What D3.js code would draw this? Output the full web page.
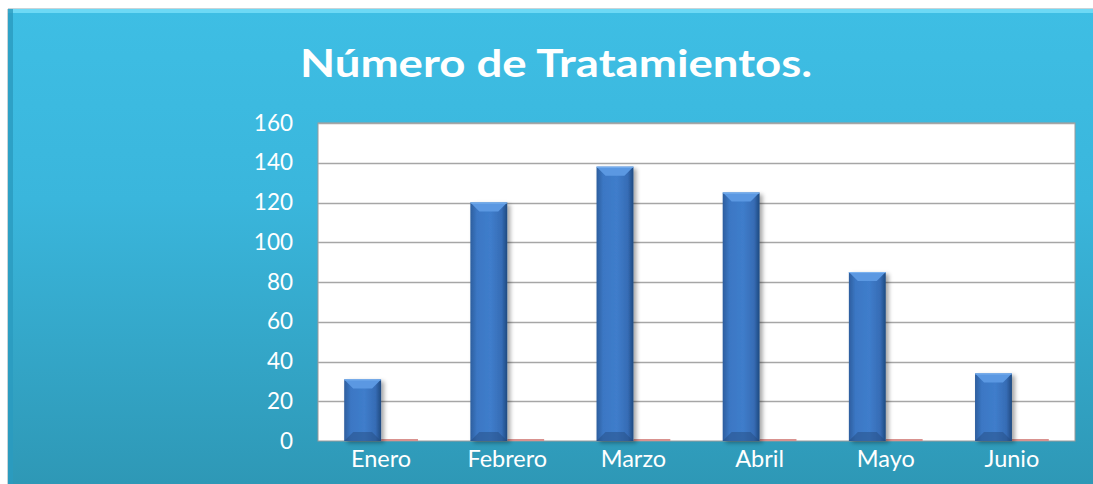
<!DOCTYPE html>
<html lang="es">
<head>
<meta charset="utf-8">
<title>Número de Tratamientos</title>
<script src="https://d3js.org/d3.v7.min.js"></script>
<style>
  body{margin:0;background:#fff;}
  svg{display:block;font-family:Lato,"Open Sans",sans-serif;}
</style>
</head>
<body>
<div id="chart"></div>
<script>
// data
var months = ["Enero","Febrero","Marzo","Abril","Mayo","Junio"]
var series = ["Tratamientos","Serie 2"]
var tratamientos = [31,120,138,125,85,34]
var serie2 = [1,1,1,1,1,1]
var yTicks = [0,20,40,60,80,100,120,140,160]

var W = 1093, H = 484
var plot = {left:318, right:1075, top:123, bottom:441}

var svg = d3.select("#chart").append("svg").attr("width",W).attr("height",H)
var defs = svg.append("defs")

// background panel gradient
var bg = defs.append("linearGradient").attr("id","bg").attr("x1",0).attr("y1",0).attr("x2",0).attr("y2",1)
bg.append("stop").attr("offset","0%").attr("stop-color","#3ebee4")
bg.append("stop").attr("offset","40%").attr("stop-color","#3ab6dc")
bg.append("stop").attr("offset","100%").attr("stop-color","#2e98b6")

var barG = defs.append("linearGradient").attr("id","barG").attr("x1",0).attr("y1",0).attr("x2",1).attr("y2",0)
barG.append("stop").attr("offset","0%").attr("stop-color","#2d5e9e")
barG.append("stop").attr("offset","18%").attr("stop-color","#3b77c4")
barG.append("stop").attr("offset","55%").attr("stop-color","#3f7dcb")
barG.append("stop").attr("offset","85%").attr("stop-color","#366cb5")
barG.append("stop").attr("offset","100%").attr("stop-color","#1f4a80")

var shadow = defs.append("filter").attr("id","shadow").attr("x","-30%").attr("y","-10%").attr("width","170%").attr("height","130%")
shadow.append("feDropShadow").attr("dx",3).attr("dy",2).attr("stdDeviation",2).attr("flood-color","#000").attr("flood-opacity",0.35)

// panel
svg.append("rect").attr("x",8).attr("y",9).attr("width",W-8).attr("height",H-9).attr("fill","url(#bg)")
svg.append("rect").attr("x",8).attr("y",9).attr("width",W-8).attr("height",4).attr("fill","#72dcf6").attr("opacity",0.9)
svg.append("rect").attr("x",8).attr("y",9).attr("width",5).attr("height",H-9).attr("fill","#2a9bbf").attr("opacity",0.8)
svg.append("line").attr("x1",8).attr("x2",W).attr("y1",8.5).attr("y2",8.5).attr("stroke","#c8d4d8")
svg.append("line").attr("x1",7.5).attr("x2",7.5).attr("y1",9).attr("y2",H).attr("stroke","#c8d4d8")

// title
svg.append("text").attr("x",556).attr("y",77).attr("text-anchor","middle")
  .attr("fill","#fff").attr("font-weight","bold").attr("font-size",38)
  .attr("textLength",512).attr("lengthAdjust","spacingAndGlyphs")
  .text("Número de Tratamientos.")

// scales
var x0 = d3.scaleBand().domain(months).range([plot.left,plot.right]).padding(0)
var x1 = d3.scaleBand().domain(series).range([0,x0.bandwidth()]).paddingInner(0).paddingOuter(0.71)
var y = d3.scaleLinear().domain([0,160]).range([plot.bottom,plot.top])

// plot area
svg.append("rect").attr("x",plot.left).attr("y",plot.top)
  .attr("width",plot.right-plot.left).attr("height",plot.bottom-plot.top)
  .attr("fill","#fff").attr("stroke","#9a9a9a")

svg.append("g").selectAll("line").data(yTicks.filter(function(d){return d>0})).join("line")
  .attr("x1",plot.left).attr("x2",plot.right)
  .attr("y1",function(d){return Math.round(y(d))+0.5}).attr("y2",function(d){return Math.round(y(d))+0.5})
  .attr("stroke","#a6a6a6").attr("stroke-width",1.5)

// y axis labels
var yAxis = d3.axisLeft(y).tickValues(yTicks).tickSize(0).tickPadding(25)
var gy = svg.append("g").attr("transform","translate("+plot.left+",0)").call(yAxis)
gy.select(".domain").remove()
gy.selectAll("text").attr("fill","#fff").attr("font-size",22.5).attr("font-family","Lato,'Open Sans',sans-serif")

// x axis labels
var xAxis = d3.axisBottom(x0).tickSize(0).tickPadding(9)
var gx = svg.append("g").attr("transform","translate(0,"+plot.bottom+")").call(xAxis)
gx.select(".domain").remove()
gx.selectAll("text").attr("fill","#fff").attr("font-size",23.5).attr("font-family","Lato,'Open Sans',sans-serif")

// red series (tiny)
svg.append("g").selectAll("rect").data(serie2).join("rect")
  .attr("x",function(d,i){return x0(months[i])+x1("Serie 2")})
  .attr("y",function(d){return y(d)})
  .attr("width",x1.bandwidth())
  .attr("height",function(d){return y(0)-y(d)})
  .attr("fill","#d9928f")

// blue bars with bevel
var bars = svg.append("g").selectAll("g").data(tratamientos).join("g")
  .attr("transform",function(d,i){return "translate("+(x0(months[i])+x1("Tratamientos"))+","+y(d)+")"})
var bw = x1.bandwidth(), bev = 9
bars.append("rect")
  .attr("width",bw).attr("height",function(d){return y(0)-y(d)})
  .attr("fill","url(#barG)").attr("filter","url(#shadow)")
bars.append("path")
  .attr("d","M0,0 L"+bw+",0 L"+(bw-bev)+","+bev+" L"+bev+","+bev+" Z")
  .attr("fill","#5b98e2")
bars.append("path")
  .attr("d",function(d){var h=y(0)-y(d);return "M0,"+h+" L"+bw+","+h+" L"+(bw-bev)+","+(h-bev)+" L"+bev+","+(h-bev)+" Z"})
  .attr("fill","#24497c").attr("opacity",0.45)
bars.append("rect").attr("width",bw).attr("height",1).attr("fill","#7db3f0")
</script>
</body>
</html>
